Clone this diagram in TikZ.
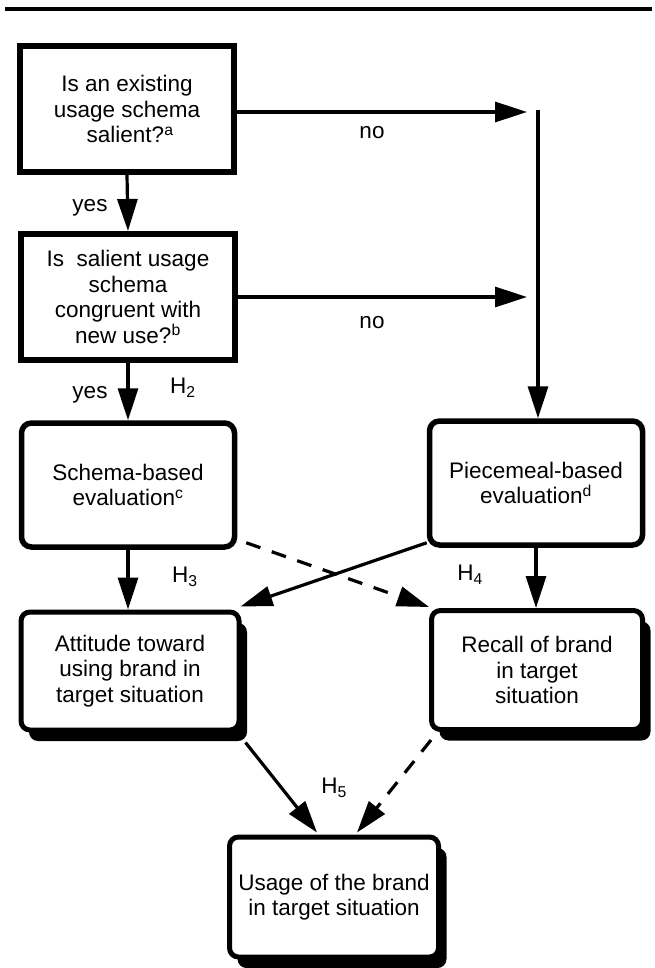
\documentclass[tikz,border=0pt]{standalone}
\usepackage{fontspec}
\setmainfont{Liberation Sans}
\usetikzlibrary{arrows.meta,shadows,calc}
\begin{document}
\begin{tikzpicture}[x=1pt,y=-1pt,
  every node/.style={font=\fontsize{22.5}{25.5}\selectfont, align=center, inner sep=0pt},
  sqbox/.style={draw, line width=6pt, minimum width=214pt, minimum height=126pt},
  rbox/.style={draw, line width=5.5pt, rounded corners=10pt, minimum width=213pt, minimum height=124pt},
  sbox/.style={draw, fill=white, line width=5pt, rounded corners=9pt,
    drop shadow={shadow xshift=8pt, shadow yshift=-11pt, opacity=1, fill=black, rounded corners=9pt}},
  arr/.style={line width=3.2pt, -{Triangle[length=32pt,width=20pt]}},
  dsh/.style={dash pattern=on 15pt off 12pt},
  lbl/.style={font=\fontsize{22.5}{25.5}\selectfont}
]
\useasboundingbox (0,0) rectangle (655,968);
\draw[line width=3.5pt] (5,9) -- (652,9);

\node[sqbox] (q1) at (127,109) {Is an existing\\usage schema\\\ salient?\textsuperscript{a}};
\node[sqbox] (q2) at (128,297) {Is~ salient usage\\schema\\congruent with\\new use?\textsuperscript{b}};
\node[rbox] (schema) at (128,485) {Schema-based\\evaluation\textsuperscript{c}};
\node[rbox] (piece) at (536,483) {Piecemeal-based\\evaluation\textsuperscript{d}};
\node[sbox, minimum width=218pt, minimum height=118pt] (att) at (130,671) {Attitude toward\\using brand in\\target situation};
\node[sbox, minimum width=211pt, minimum height=119pt] (recall) at (537,670) {Recall of brand\\in target\\situation};
\node[sbox, minimum width=209pt, minimum height=120pt] (usage) at (334,897) {Usage of the brand\\in target situation};

\coordinate (t1) at (527,112);
\coordinate (t2) at (527,297);
\coordinate (vtop) at (538,110);

\draw[arr] (q1.east |- t1) -- (t1);
\draw[arr] (q2.east |- t2) -- (t2);
\draw[arr] (vtop) -- (vtop |- piece.north);
\draw[arr] (q1.south) -- (q2.north);
\draw[arr] (q2.south) -- (schema.north);
\draw[arr] (schema.south) -- (schema.south |- att.north);
\draw[arr] (piece.south) -- (piece.south |- recall.north);
\draw[arr, dsh] ($(schema.south east)+(9,-7)$) -- ($(recall.north west)+(0,-1)$);
\draw[arr] ($(piece.south west)+(0,-5)$) -- ($(att.north east)+(-1,-3)$);
\draw[arr] ($(att.south east)+(4,10)$) -- ($(usage.north)+(-17,-2)$);
\draw[arr, dsh] ($(recall.south west)+(2,8)$) -- ($(usage.north)+(23,-2)$);

\node[lbl] (no1) at (372,133) {no};
\node[lbl] (no2) at (372,323) {no};
\node[lbl] (yes1) at (90,208) {yes};
\node[lbl] (yes2) at (90,395) {yes};
\node[lbl] (h2) at (183,388) {H\textsubscript{2}};
\node[lbl] (h3) at (185,577) {H\textsubscript{3}};
\node[lbl] (h4) at (470,575) {H\textsubscript{4}};
\node[lbl] (h5) at (334,788) {H\textsubscript{5}};
\end{tikzpicture}
\end{document}
